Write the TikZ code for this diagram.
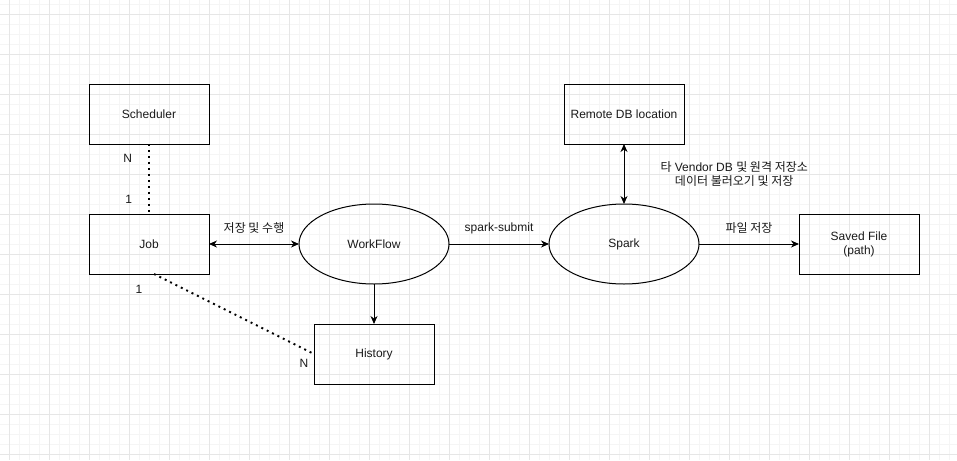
\documentclass[tikz,border=0pt]{standalone}
\usepackage{fontspec}
\setmainfont{Liberation Sans}
\newfontfamily\kor{Noto Sans CJK KR}
\usetikzlibrary{positioning,shapes.geometric,arrows.meta}
\definecolor{minorgray}{HTML}{F5F5F5}
\definecolor{majorgray}{HTML}{E6E6E6}
\definecolor{ink}{HTML}{1A1A1A}

\begin{document}
\begin{tikzpicture}[
		x=1pt,y=-1pt,
		font=\fontsize{12}{14}\selectfont,
		text=ink,
		box/.style={draw,line width=1pt,rectangle,minimum width=120pt,minimum height=60pt,inner sep=0pt,outer sep=0pt,align=center},
		oval/.style={draw,line width=1pt,ellipse,minimum width=150pt,minimum height=80pt,inner sep=0pt,outer sep=0pt},
		tip/.tip={Stealth[length=8pt,width=7pt,inset=2.5pt]},
		arr/.style={line width=1pt,-tip},
		dblarr/.style={line width=1pt,tip-tip},
		dotline/.style={line width=2pt,dash pattern=on 2pt off 4pt},
		lbl/.style={inner sep=0pt}
		]
		\useasboundingbox (0,0) rectangle (957,460);
		\fill[white] (0,0) rectangle (957,460);
		% background grid
		\foreach \x in {9,19,...,949} \draw[minorgray,line width=0.8pt] (\x,0) -- (\x,460);
		\foreach \y in {4,14,...,454} \draw[minorgray,line width=0.8pt] (0,\y) -- (957,\y);
		\foreach \x in {9,49,...,929} \draw[majorgray,line width=0.8pt] (\x,0) -- (\x,460);
		\foreach \y in {14,54,...,454} \draw[majorgray,line width=0.8pt] (0,\y) -- (957,\y);

		\node[box] (job) at (149,244) {Job};
		\node[box,above=70pt of job] (scheduler) {Scheduler};
		\node[oval,right=90pt of job] (workflow) {WorkFlow};
		\node[box,below=40pt of workflow] (history) {History};
		\node[oval,right=100pt of workflow] (spark) {Spark};
		\node[box,above=60pt of spark] (remote) {Remote DB location};
		\node[box,right=100pt of spark] (saved) {Saved File\\(path)};

		\draw[dblarr] (job) -- node[lbl,above=10pt] {\kor 저장 및 수행} (workflow);
		\draw[arr] (workflow) -- (history);
		\draw[arr] (workflow) -- node[lbl,above=10pt] {spark-submit} (spark);
		\draw[arr] (spark) -- node[lbl,above=10pt] {\kor 파일 저장} (saved);
		\draw[dblarr] (remote) -- node[lbl,right=36pt,align=center] {{\kor 타} Vendor DB {\kor 및 원격 저장소}\\\kor 데이터 불러오기 및 저장} (spark);

		\draw[dotline] (scheduler) -- node[lbl,pos=0.21,left=16pt] {N} node[lbl,pos=0.79,left=16pt] {1} (job);
		\draw[dotline] ([xshift=5pt]job.south) -- (history.west);
		\node[lbl] (one) at (139,289) {1};
		\node[lbl] (many) at (304,363) {N};
	\end{tikzpicture}
\end{document}
